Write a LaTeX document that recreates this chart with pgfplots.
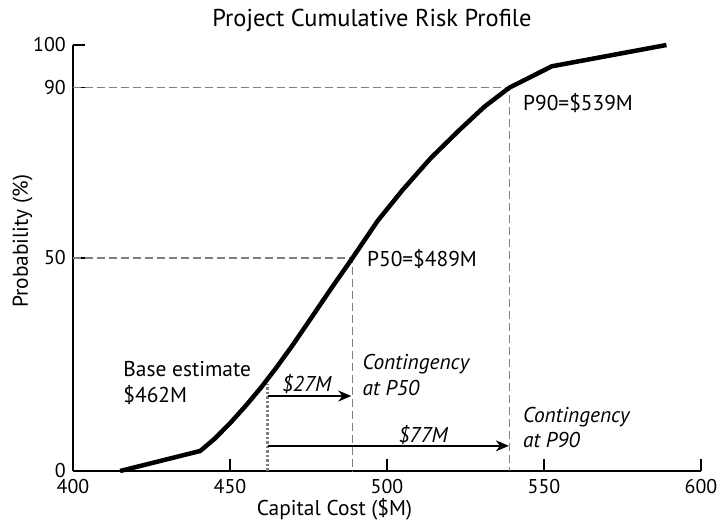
\documentclass[border=0pt]{standalone}
\usepackage{fontspec}
\setmainfont{PT Sans}
\usepackage{pgfplots}
\pgfplotsset{compat=1.18}
\usetikzlibrary{arrows.meta}
\newcommand{\lf}{\fontsize{20}{24}\selectfont}
\newcommand{\af}{\fontsize{21.5}{26}\selectfont}
\begin{document}
\begin{tikzpicture}
\begin{axis}[
  at={(0bp,0bp)}, anchor=south west,
  scale only axis, width=628bp, height=426bp,
  xmin=400, xmax=600, ymin=0, ymax=100,
  axis x line=bottom, axis y line=left,
  axis line style={-, line width=1.5bp, black},
  tick align=inside,
  xtick={400,450,500,550,600}, ytick={0,50,90,100},
  major tick length=12bp,
  tick style={black, line width=1.5bp},
  /pgf/number format/assume math mode=true,
  ticklabel style={font=\lf},
  xticklabel style={anchor=north, inner sep=0pt, yshift=-8bp},
  yticklabel style={anchor=east, inner sep=0pt, xshift=-7bp},
  title={Project Cumulative Risk Profile},
  title style={at={(axis description cs:0.476,1)}, anchor=base, yshift=13bp, font=\fontsize{24.5}{28}\selectfont},
  xlabel={Capital Cost (\$M)},
  xlabel style={at={(axis description cs:0.4164,0)}, anchor=base, yshift=-44bp, font=\af},
  ylabel={Probability (\%)},
  ylabel style={at={(axis description cs:-0.0717,0.539)}, anchor=base, font=\af},
  clip=false,
]
% reference lines
\draw[gray, line width=1.2bp, dash pattern=on 8bp off 4bp] (axis cs:400,90) -- (axis cs:539,90) -- (axis cs:539,0);
\draw[gray, line width=1.2bp, dash pattern=on 8bp off 4bp] (axis cs:400,50) -- (axis cs:489,50) -- (axis cs:489,0);
\draw[gray, line width=2.5bp, dash pattern=on 2.5bp off 2bp] (axis cs:462,0) -- (axis cs:462,20.5);
% arrows
\draw[-{Stealth[length=13bp,width=11bp]}, line width=1.4bp] (axis cs:462,17.6) -- (axis cs:488.6,17.6);
\draw[-{Stealth[length=13bp,width=11bp]}, line width=1.4bp] (axis cs:462,5.9) -- (axis cs:538.8,5.9);
% curve
\addplot[black, line width=4.5bp, line join=round, mark=none] coordinates {
(415,0) (440.5,4.7) (445,7.5) (450,11.2) (455,15.3) (460,19.7) (465,24.5)
(470,29.6) (475,35) (482,42.6) (489,50) (497,58.7) (505,66) (514,73.5) (523,80)
(531,85.5) (539,90) (552.5,95) (589,100)
};
% annotations
\node[font=\af, anchor=base west, inner sep=0pt] at (axis cs:416,22.1) {Base estimate};
\node[font=\af, anchor=base west, inner sep=0pt] at (axis cs:416,16.0) {\$462M};
\node[font=\af\itshape, anchor=base west, inner sep=0pt] at (axis cs:492.2,23.9) {Contingency};
\node[font=\af\itshape, anchor=base west, inner sep=0pt] at (axis cs:492.2,17.8) {at P50};
\node[font=\af\itshape, anchor=base west, inner sep=0pt] at (axis cs:543.3,11.5) {Contingency};
\node[font=\af\itshape, anchor=base west, inner sep=0pt] at (axis cs:543.3,5.4) {at P90};
\node[font=\af\itshape, anchor=base, inner sep=0pt] at (axis cs:474.4,18.6) {\$27M};
\node[font=\af\itshape, anchor=base, inner sep=0pt] at (axis cs:511.5,6.8) {\$77M};
\node[font=\af, anchor=base west, inner sep=0pt] at (axis cs:493.6,47.9) {P50=\$489M};
\node[font=\af, anchor=base west, inner sep=0pt] at (axis cs:543.3,84.7) {P90=\$539M};
\end{axis}
\pgfresetboundingbox
\path[use as bounding box] (-73bp,-50bp) rectangle (647bp,471bp);
\end{tikzpicture}
\end{document}
